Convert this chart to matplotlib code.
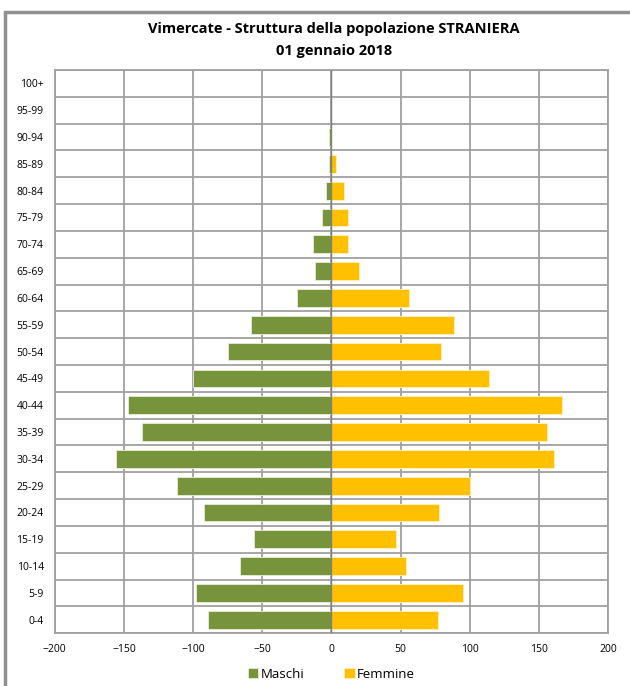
import numpy as np
import matplotlib.pyplot as plt
from matplotlib.patches import Rectangle

plt.rcParams['font.family'] = ['Open Sans', 'DejaVu Sans']

classi = ['0-4', '5-9', '10-14', '15-19', '20-24', '25-29', '30-34', '35-39',
          '40-44', '45-49', '50-54', '55-59', '60-64', '65-69', '70-74',
          '75-79', '80-84', '85-89', '90-94', '95-99', '100+']
maschi = [-89, -98, -66, -56, -92, -112, -156, -137,
          -147, -100, -75, -58, -25, -12, -13,
          -7, -4, -2, -2, 0, 0]
femmine = [77, 95, 54, 47, 78, 100, 161, 156,
           167, 114, 79, 89, 56, 20, 12,
           12, 9, 3, 0, 0, 0]

verde = '#77933C'
giallo = '#FFC000'
grigio = '#A0A0A0'

fig = plt.figure(figsize=(6.3, 6.86), dpi=100)
ax = fig.add_axes([0.087, 0.077, 0.878, 0.821])

y = np.arange(len(classi))
ax.barh(y, maschi, height=0.66, color=verde, edgecolor='#E8EED8', linewidth=0.6,
        label='Maschi', zorder=3)
ax.barh(y, femmine, height=0.66, color=giallo, edgecolor='#FFF0C0', linewidth=0.6,
        label='Femmine', zorder=3)
ax.axvline(0, color='#808080', lw=1.0, zorder=4)

ax.set_xlim(-200, 200)
ax.set_ylim(-0.5, len(classi) - 0.5)
ax.set_xticks(range(-200, 201, 50))
ax.set_yticks(y)
ax.set_yticklabels(classi)
ax.set_yticks(np.arange(-0.5, len(classi), 1), minor=True)
ax.tick_params(axis='both', which='both', length=0, labelsize=7.5, pad=8)
ax.tick_params(axis='y', which='minor', length=0)
ax.grid(axis='x', which='major', color=grigio, lw=1.3, zorder=0)
ax.grid(axis='y', which='minor', color=grigio, lw=1.3, zorder=0)
for s in ax.spines.values():
    s.set_color(grigio)
    s.set_linewidth(1.3)

fig.text(0.53, 0.958, 'Vimercate - Struttura della popolazione STRANIERA',
         ha='center', va='center', fontsize=10.5, fontweight='bold')
fig.text(0.53, 0.926, '01 gennaio 2018', ha='center', va='center',
         fontsize=10.5, fontweight='bold')

ax.legend(loc='upper center', bbox_to_anchor=(0.5, -0.04), ncol=2, frameon=False,
          fontsize=9.5, handlelength=0.8, handleheight=0.8, handletextpad=0.2,
          columnspacing=3)

# cornice grigia
fig.patches.append(Rectangle((0.008, -0.02), 1.05, 1.003, transform=fig.transFigure,
                             fill=False, edgecolor='#909090', lw=2.5))

fig.savefig('out.png', dpi=100)
